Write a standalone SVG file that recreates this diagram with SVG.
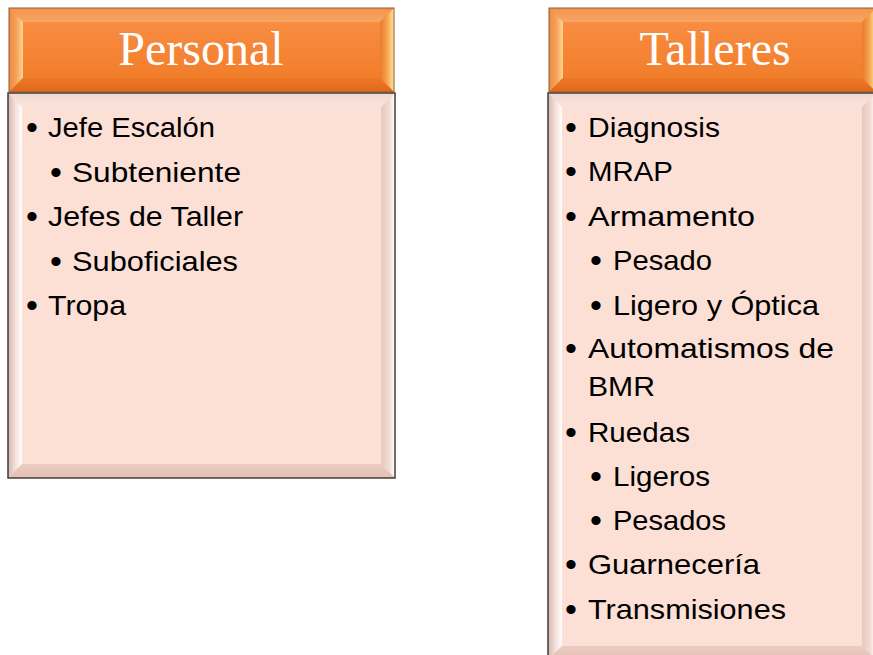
<svg xmlns="http://www.w3.org/2000/svg" width="873" height="655" viewBox="0 0 873 655">
<defs>
<linearGradient id="hFace" x1="0" y1="0" x2="0" y2="1"><stop offset="0" stop-color="#fa9048"/><stop offset="1" stop-color="#f07a24"/></linearGradient>
<linearGradient id="hLeft" x1="0" y1="0" x2="1" y2="0"><stop offset="0" stop-color="#ee8a42"/><stop offset="0.5" stop-color="#f4a05a"/><stop offset="1" stop-color="#fdd58f"/></linearGradient>
<linearGradient id="hRight" x1="0" y1="0" x2="1" y2="0"><stop offset="0" stop-color="#ea7a2c"/><stop offset="0.5" stop-color="#f6a250"/><stop offset="1" stop-color="#fee59a"/></linearGradient>
<linearGradient id="hTop" x1="0" y1="0" x2="0" y2="1"><stop offset="0" stop-color="#f4934c"/><stop offset="1" stop-color="#f8a566"/></linearGradient>
<linearGradient id="hBot" x1="0" y1="0" x2="0" y2="1"><stop offset="0" stop-color="#ec7826"/><stop offset="1" stop-color="#e0691a"/></linearGradient>
<linearGradient id="bLeft" x1="0" y1="0" x2="1" y2="0"><stop offset="0" stop-color="#d2b8af"/><stop offset="0.5" stop-color="#f3ddd6"/><stop offset="1" stop-color="#ffffff"/></linearGradient>
<linearGradient id="bRight" x1="0" y1="0" x2="1" y2="0"><stop offset="0" stop-color="#e6c8bd"/><stop offset="0.6" stop-color="#f3dcd4"/><stop offset="1" stop-color="#ffffff"/></linearGradient>
<linearGradient id="bTop" x1="0" y1="0" x2="0" y2="1"><stop offset="0" stop-color="#f1d8cf"/><stop offset="1" stop-color="#f9e4dc"/></linearGradient>
<linearGradient id="bBot" x1="0" y1="0" x2="0" y2="1"><stop offset="0" stop-color="#ecccc1"/><stop offset="1" stop-color="#e2c0b4"/></linearGradient>
</defs>
<style>
.hs{stroke:#8c5a38;stroke-width:1}
.bs{stroke:#423b3b;stroke-width:1.5;fill:none}
.ht{font-family:"Liberation Serif","Times New Roman",serif;font-size:48px;fill:#ffffff;text-anchor:middle}
.bt{font-family:"Liberation Sans",Arial,sans-serif;font-size:28px;fill:#000000}
.bu{font-family:"Liberation Sans",Arial,sans-serif;font-size:34px;fill:#000000}
</style>
<g id="personal-header">
<rect x="9" y="8" width="385" height="84" fill="url(#hFace)"/>
<polygon points="9,8 394,8 380,22 23,22" fill="url(#hTop)"/>
<polygon points="9,8 23,22 23,78 9,92" fill="url(#hLeft)"/>
<polygon points="394,8 394,92 380,78 380,22" fill="url(#hRight)"/>
<polygon points="9,92 23,78 380,78 394,92" fill="url(#hBot)"/>
<rect x="9" y="8" width="385" height="84" fill="none" class="hs"/>
<text class="ht" x="201" y="65">Personal</text>
</g>
<g id="talleres-header">
<rect x="549" y="8" width="327" height="84" fill="url(#hFace)"/>
<polygon points="549,8 876,8 862,22 563,22" fill="url(#hTop)"/>
<polygon points="549,8 563,22 563,78 549,92" fill="url(#hLeft)"/>
<polygon points="876,8 876,92 862,78 862,22" fill="url(#hRight)"/>
<polygon points="549,92 563,78 862,78 876,92" fill="url(#hBot)"/>
<rect x="549" y="8" width="327" height="84" fill="none" class="hs"/>
<text class="ht" x="715" y="65">Talleres</text>
</g>
<g id="personal-body">
<rect x="8" y="93" width="387" height="385" fill="#fce0d6"/>
<polygon points="8,93 395,93 381,107 22,107" fill="url(#bTop)"/>
<polygon points="8,93 22,107 22,464 8,478" fill="url(#bLeft)"/>
<polygon points="395,93 395,478 381,464 381,107" fill="url(#bRight)"/>
<polygon points="8,478 22,464 381,464 395,478" fill="url(#bBot)"/>
<rect x="8" y="93" width="387" height="385" class="bs"/>
<text class="bu" x="26" y="139">•</text><text class="bt" x="48" y="137" textLength="167" lengthAdjust="spacingAndGlyphs">Jefe Escalón</text>
<text class="bu" x="50" y="184">•</text><text class="bt" x="72" y="182" textLength="169" lengthAdjust="spacingAndGlyphs">Subteniente</text>
<text class="bu" x="26" y="228">•</text><text class="bt" x="48" y="226" textLength="195" lengthAdjust="spacingAndGlyphs">Jefes de Taller</text>
<text class="bu" x="50" y="273">•</text><text class="bt" x="72" y="271" textLength="166" lengthAdjust="spacingAndGlyphs">Suboficiales</text>
<text class="bu" x="26" y="317">•</text><text class="bt" x="48" y="315" textLength="78" lengthAdjust="spacingAndGlyphs">Tropa</text>
</g>
<g id="talleres-body">
<rect x="548" y="93" width="328" height="567" fill="#fce0d6"/>
<polygon points="548,93 876,93 862,107 562,107" fill="url(#bTop)"/>
<polygon points="548,93 562,107 562,646 548,660" fill="url(#bLeft)"/>
<polygon points="876,93 876,660 862,646 862,107" fill="url(#bRight)"/>
<polygon points="548,660 562,646 862,646 876,660" fill="url(#bBot)"/>
<rect x="548" y="93" width="328" height="567" class="bs"/>
<text class="bu" x="565" y="139">•</text><text class="bt" x="588" y="137" textLength="132" lengthAdjust="spacingAndGlyphs">Diagnosis</text>
<text class="bu" x="565" y="183">•</text><text class="bt" x="588" y="181" textLength="85" lengthAdjust="spacingAndGlyphs">MRAP</text>
<text class="bu" x="565" y="228">•</text><text class="bt" x="588" y="226" textLength="167" lengthAdjust="spacingAndGlyphs">Armamento</text>
<text class="bu" x="590" y="272">•</text><text class="bt" x="613" y="270" textLength="99" lengthAdjust="spacingAndGlyphs">Pesado</text>
<text class="bu" x="590" y="317">•</text><text class="bt" x="613" y="315" textLength="206" lengthAdjust="spacingAndGlyphs">Ligero y Óptica</text>
<text class="bu" x="565" y="360">•</text><text class="bt" x="588" y="358" textLength="246" lengthAdjust="spacingAndGlyphs">Automatismos de</text>
<text class="bt" x="588" y="396" textLength="67" lengthAdjust="spacingAndGlyphs">BMR</text>
<text class="bu" x="565" y="444">•</text><text class="bt" x="588" y="442" textLength="102" lengthAdjust="spacingAndGlyphs">Ruedas</text>
<text class="bu" x="590" y="488">•</text><text class="bt" x="613" y="486" textLength="97" lengthAdjust="spacingAndGlyphs">Ligeros</text>
<text class="bu" x="590" y="532">•</text><text class="bt" x="613" y="530" textLength="113" lengthAdjust="spacingAndGlyphs">Pesados</text>
<text class="bu" x="565" y="576">•</text><text class="bt" x="588" y="574" textLength="172" lengthAdjust="spacingAndGlyphs">Guarnecería</text>
<text class="bu" x="565" y="621">•</text><text class="bt" x="588" y="619" textLength="198" lengthAdjust="spacingAndGlyphs">Transmisiones</text>
</g>
</svg>
